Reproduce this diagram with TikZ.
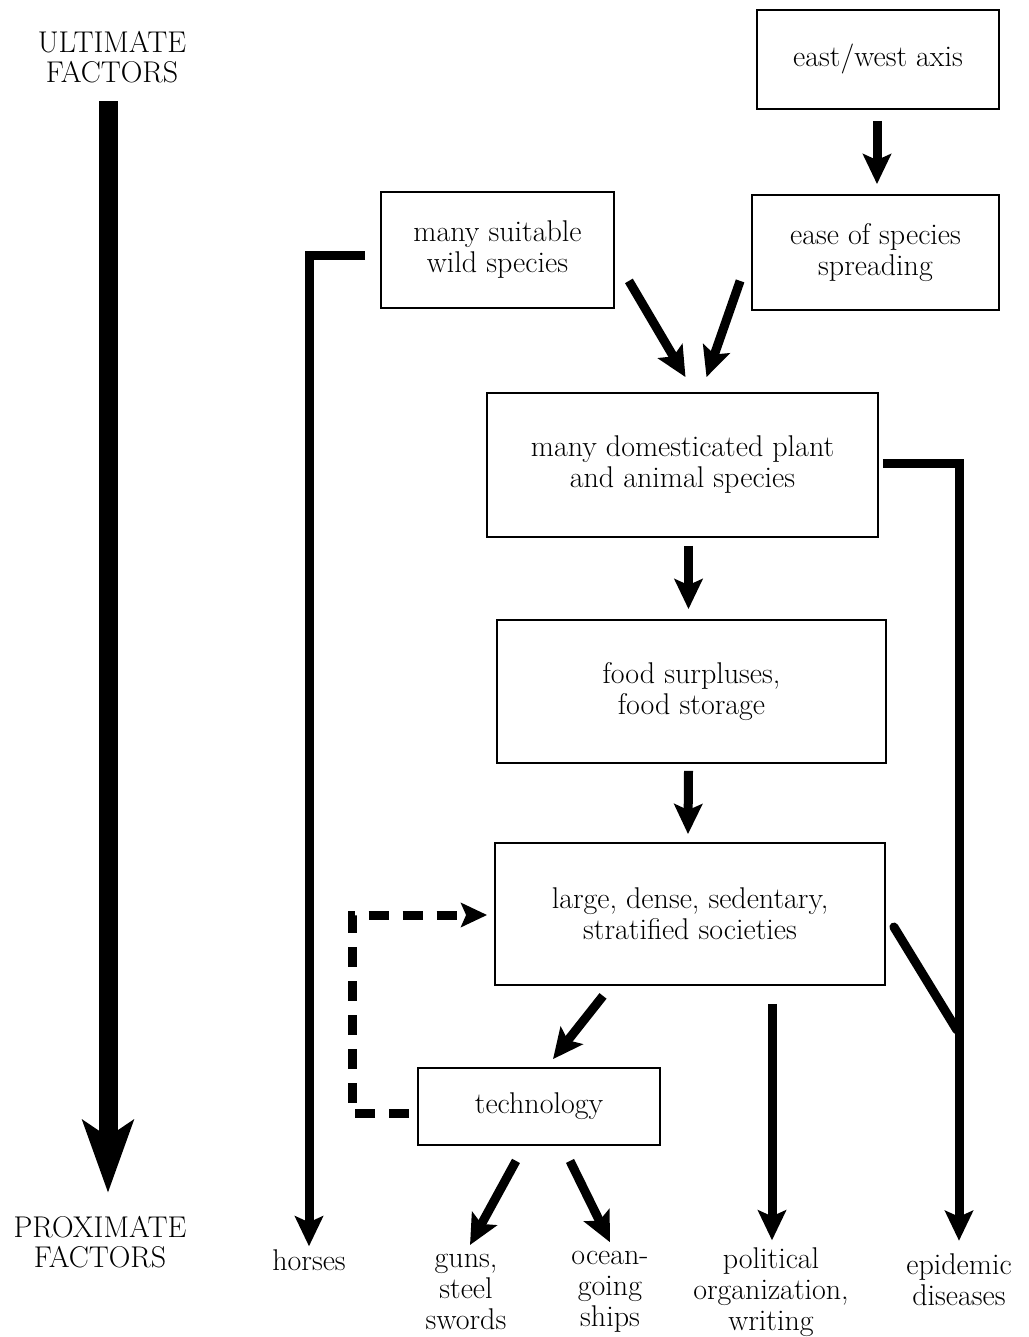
\documentclass[tikz,border=0pt]{standalone}
\usetikzlibrary{positioning}
\usetikzlibrary{arrows.meta}

\begin{document}
\begin{tikzpicture}[x=1pt, y=-1pt,
        box/.style={draw, line width=1.8pt, align=center, inner sep=0pt,
            font=\fontsize{30}{31}\selectfont},
        outcome/.style={align=center, inner sep=1pt, font=\fontsize{30}{31}\selectfont},
        factor/.style={align=center, inner sep=1pt, font=\fontsize{30}{30}\selectfont},
        flow/.style={line width=9pt, -{Stealth[length=30pt, width=28pt, inset=6pt]}},
        link/.style={line width=9pt, line cap=round},
        loopback/.style={line width=9pt, dash pattern=on 20pt off 14pt,
            -{Stealth[length=26pt, width=24pt, inset=5pt]}},
        bigflow/.style={line width=19pt, -{Stealth[length=72pt, width=50pt, inset=16pt]}}]
        \useasboundingbox (0,0) rectangle (1028,1337);

        % left scale
        \node[factor, name=ultimate] at (112,57) {ULTIMATE\\FACTORS};
        \node[factor, name=proximate] at (100,1242) {PROXIMATE\\FACTORS};
        \draw[bigflow] ([shift={(-4,17)}]ultimate.south) -- ([shift={(8,-22)}]proximate.north);

        % boxes
        \node[box, minimum width=242pt, minimum height=99pt, name=ewaxis] at (878,59.5) {east/west axis};
        \node[box, minimum width=247pt, minimum height=115pt, name=ease] at (875.5,252.5) {ease of species\\spreading};
        \node[box, minimum width=233pt, minimum height=116pt, name=wild] at (497.5,250) {many suitable\\wild species};
        \node[box, minimum width=391pt, minimum height=144pt, name=domest] at (682.5,465) {many domesticated plant\\and animal species};
        \node[box, minimum width=389pt, minimum height=143pt, name=food] at (691.5,691.5) {food surpluses,\\food storage};
        \node[box, minimum width=390pt, minimum height=142pt, name=society] at (690,914) {large, dense, sedentary,\\stratified societies};
        \node[box, minimum width=242pt, minimum height=77pt, name=tech] at (539,1106.5) {technology};

        % outcomes
        \node[outcome, name=horses] at (309,1260) {horses};
        \node[outcome, name=guns] at (466,1292) {guns,\\steel\\swords};
        \node[outcome, name=ships] at (610,1292) {ocean-\\going\\ships};
        \node[outcome, name=politics] at (771,1292) {political\\organization,\\writing};
        \node[outcome, name=epidemic] at (959,1280) {epidemic\\diseases};

        % arrows
        \draw[flow] ([shift={(-1,11)}]ewaxis.south) -- ([shift={(1.5,-10)}]ease.north);
        \draw[flow] ([shift={(14,-28)}]wild.south east) -- ([shift={(3,-15)}]domest.north);
        \draw[flow] ([shift={(-11,-30)}]ease.south west) -- ([shift={(24,-15)}]domest.north);
        \draw[flow] ([shift={(6,8)}]domest.south) -- ([shift={(-3,-10)}]food.north);
        \draw[flow] ([shift={(-3,7)}]food.south) -- ([shift={(-2,-8)}]society.north);
        \draw[flow] ([shift={(-87,10)}]society.south) -- ([shift={(14,-8)}]tech.north);
        \draw[flow] ([shift={(-23,15)}]tech.south) -- ([shift={(4,-8)}]guns.north);
        \draw[flow] ([shift={(31,15)}]tech.south) -- ([shift={(0,-8)}]ships.north);
        \draw[flow] ([shift={(82,18)}]society.south) -- ([shift={(1,-6)}]politics.north);
        \draw[flow, line join=miter] ([shift={(4,-2)}]domest.east) -| ([yshift=12pt]epidemic.north);
        \draw[link] ([shift={(8,13)}]society.east) -- ([shift={(71,116)}]society.east);
        \draw[flow, line join=miter] ([shift={(-15,6)}]wild.west) -| ([yshift=2pt]horses.north);
        \draw[loopback] ([shift={(-8,7)}]tech.west) -- ++(-57,0) |- ([shift={(-7,1)}]society.west);
\end{tikzpicture}
\end{document}
